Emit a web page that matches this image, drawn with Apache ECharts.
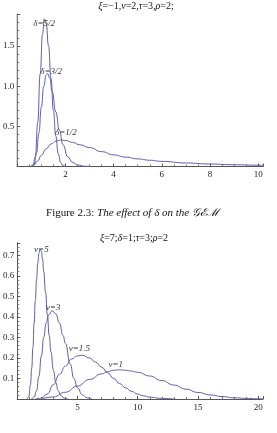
<!DOCTYPE html>
<html>
<head>
<meta charset="utf-8">
<script src="https://cdn.jsdelivr.net/npm/echarts@6/dist/echarts.min.js"></script>
<style>
  html, body { margin: 0; padding: 0; background: #fff; }
  #chart { width: 277px; height: 433px; }
</style>
</head>
<body>
<div id="chart"></div>
<script>
// top plot: effect of delta (xi=-1, nu=2, tau=3, rho=2)
const delta52 = [[0.55,0],[0.65,0.01],[0.75,0.12],[0.85,0.55],[0.95,1.15],[1.05,1.65],[1.12,1.84],[1.2,1.78],[1.3,1.5],
  [1.4,1.1],[1.5,0.7],[1.6,0.38],[1.7,0.16],[1.8,0.05],[1.9,0.01],[2.0,0]];
const delta32 = [[0.6,0],[0.7,0.03],[0.8,0.17],[0.9,0.42],[1.0,0.74],[1.1,1.0],[1.2,1.14],[1.26,1.16],[1.35,1.1],
  [1.45,0.93],[1.6,0.68],[1.75,0.45],[1.9,0.27],[2.1,0.12],[2.3,0.05],[2.5,0.02],[2.8,0.003],[3.0,0]];
const delta12 = [[0.55,0],[0.7,0.02],[0.85,0.07],[1.0,0.14],[1.2,0.22],[1.4,0.28],[1.6,0.315],[1.8,0.33],[2.0,0.325],
  [2.3,0.3],[2.6,0.27],[3.0,0.235],[3.5,0.185],[4.0,0.145],[4.5,0.117],[5.0,0.095],[5.5,0.078],[6.0,0.064],
  [7.0,0.044],[8.0,0.031],[9.0,0.022],[10.0,0.016],[10.2,0.015]];
const topLabels = [['δ=5/2',1.12,1.78],['δ=3/2',1.41,1.18],['δ=1/2',2.02,0.42]];

// bottom plot: effect of nu (xi=7, delta=1, tau=3, rho=2)
const nu5 = [[0.8,0],[0.95,0.01],[1.1,0.07],[1.2,0.15],[1.3,0.25],[1.4,0.37],[1.5,0.48],[1.6,0.58],[1.7,0.66],
  [1.8,0.71],[1.9,0.73],[2.0,0.72],[2.1,0.68],[2.2,0.62],[2.35,0.52],[2.5,0.41],[2.65,0.31],[2.8,0.23],
  [3.0,0.14],[3.2,0.08],[3.4,0.04],[3.6,0.018],[3.9,0.004],[4.2,0]];
const nu3 = [[1.2,0],[1.4,0.01],[1.6,0.04],[1.8,0.11],[2.0,0.21],[2.2,0.3],[2.4,0.37],[2.6,0.41],[2.9,0.43],
  [3.2,0.415],[3.5,0.37],[3.8,0.31],[4.0,0.27],[4.4,0.17],[4.7,0.1],[5.0,0.055],[5.4,0.02],[5.8,0.006],[6.2,0]];
const nu15 = [[1.5,0],[2.0,0.004],[2.5,0.025],[3.0,0.07],[3.5,0.12],[4.0,0.16],[4.5,0.195],[5.0,0.21],[5.4,0.213],
  [6.0,0.2],[6.5,0.18],[7.0,0.155],[7.5,0.128],[8.0,0.1],[8.5,0.075],[9.0,0.054],[9.5,0.037],[10.0,0.024],
  [10.5,0.015],[11.0,0.009],[12.0,0.003],[13.0,0]];
const nu1 = [[2.0,0],[3.0,0.01],[4.0,0.033],[5.0,0.063],[6.0,0.095],[7.0,0.122],[7.5,0.133],[8.0,0.14],[8.5,0.142],
  [9.0,0.14],[9.5,0.136],[10.0,0.13],[11.0,0.112],[12.0,0.09],[13.0,0.068],[14.0,0.048],[15.0,0.032],
  [16.0,0.02],[17.0,0.012],[18.0,0.006],[19.0,0.003],[20.0,0.001],[20.4,0.0005]];
const bottomLabels = [['ν=5',2.0,0.727],['ν=3',2.97,0.444],['ν=1.5',5.16,0.244],['ν=1',8.18,0.166]];

const lineColor = '#5c5fa6';
const serif = 'Liberation Serif';

function curve(data, idx, label) {
  return {
    type: 'line', data: data, xAxisIndex: idx, yAxisIndex: idx,
    showSymbol: false, symbol: 'none', smooth: true, smoothMonotone: 'x',
    lineStyle: { color: lineColor, width: 1 },
    markPoint: {
      symbol: 'circle', symbolSize: 1, itemStyle: { color: 'rgba(0,0,0,0)' },
      label: { show: true, position: 'inside', color: '#333', fontFamily: serif, fontSize: 9, fontStyle: 'italic',
        formatter: label[0] },
      data: [{ coord: [label[1], label[2]] }]
    }
  };
}

function xAxis(idx, max, interval, minor) {
  return {
    type: 'value', gridIndex: idx, min: 0, max: max, interval: interval,
    axisLine: { onZero: false, lineStyle: { color: '#555', width: 1 } },
    axisTick: { inside: true, length: 3, lineStyle: { color: '#555' } },
    minorTick: { show: true, splitNumber: minor, length: 2, lineStyle: { color: '#777' } },
    splitLine: { show: false },
    axisLabel: { color: '#222', fontFamily: serif, fontSize: 9, margin: 4, showMinLabel: false,
      formatter: v => (v === 0 || v > max - 0.01 && v % interval !== 0) ? '' : String(v) }
  };
}

function yAxis(idx, max, interval, minor) {
  return {
    type: 'value', gridIndex: idx, min: 0, max: max, interval: interval,
    axisLine: { show: true, onZero: false, lineStyle: { color: '#555', width: 1 } },
    axisTick: { show: true, inside: true, length: 3, lineStyle: { color: '#555' } },
    minorTick: { show: true, splitNumber: minor, length: 2, lineStyle: { color: '#777' } },
    splitLine: { show: false },
    axisLabel: { color: '#222', fontFamily: serif, fontSize: 9, margin: 3,
      formatter: v => (v === 0 || Math.abs(v / interval - Math.round(v / interval)) > 1e-6) ? '' : v.toFixed(1) }
  };
}

const chart = echarts.init(document.getElementById('chart'));
chart.setOption({
  animation: false,
  grid: [
    { left: 12.5, top: 14, width: 250.5, height: 152.5 },
    { left: 12.5, top: 243, width: 250.5, height: 156 }
  ],
  xAxis: [xAxis(0, 10.2, 2, 4), xAxis(1, 20.4, 5, 5)],
  yAxis: [yAxis(0, 1.9, 0.5, 5), yAxis(1, 0.76, 0.1, 5)],
  graphic: [
    { type: 'text', x: 136, y: 6, style: { text: '{i|ξ}=−1,{i|ν}=2,{i|τ}=3,{i|ρ}=2;', textAlign: 'center', textVerticalAlign: 'middle',
      font: '10px "Liberation Serif"', fill: '#111', rich: { i: { fontStyle: 'italic', fontFamily: serif, fontSize: 10 } } } },
    { type: 'text', x: 132, y: 213, style: { text: 'Figure 2.3: {i|The effect of δ on the 𝒢ℰℳ}', textAlign: 'center', textVerticalAlign: 'middle',
      font: '11px "Liberation Serif"', fill: '#111', rich: { i: { fontStyle: 'italic', fontFamily: serif, fontSize: 11 } } } },
    { type: 'text', x: 134, y: 238, style: { text: '{i|ξ}=7;{i|δ}=1;{i|τ}=3;{i|ρ}=2', textAlign: 'center', textVerticalAlign: 'middle',
      font: '10px "Liberation Serif"', fill: '#111', rich: { i: { fontStyle: 'italic', fontFamily: serif, fontSize: 10 } } } }
  ],
  series: [
    curve(delta52, 0, topLabels[0]),
    curve(delta32, 0, topLabels[1]),
    curve(delta12, 0, topLabels[2]),
    curve(nu5, 1, bottomLabels[0]),
    curve(nu3, 1, bottomLabels[1]),
    curve(nu15, 1, bottomLabels[2]),
    curve(nu1, 1, bottomLabels[3])
  ]
});
</script>
</body>
</html>
